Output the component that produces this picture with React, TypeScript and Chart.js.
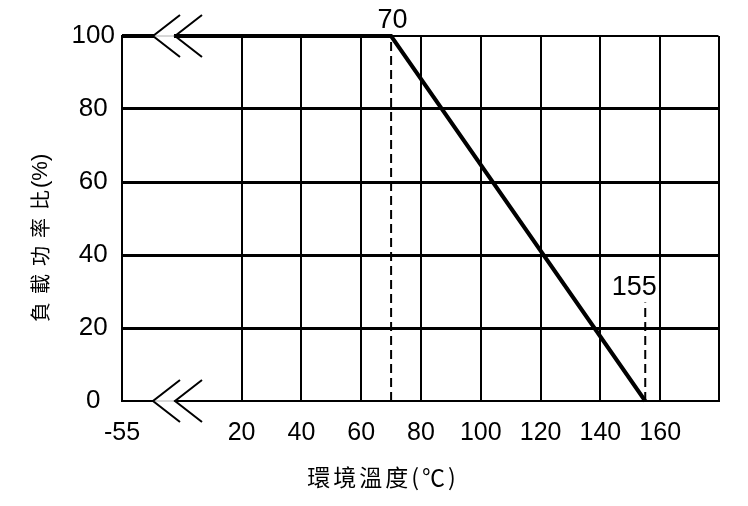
import React, { useEffect, useRef } from "react";
import { Chart, registerables } from "chart.js";

Chart.register(...registerables);

// ---- data ----
const xTickValues = [-55, 20, 40, 60, 80, 100, 120, 140, 160];
const yTickValues = [0, 20, 40, 60, 80, 100];
const xAxisEnd = 179.5;
const curveTemp = [-55, 70, 155];
const curveLoad = [100, 100, 0];
const markTemps = [70, 155];
const markTops = [100, 27];
const markLabels = ["70", "155"];
const xTitle = "環境溫度(℃)";
const yTitleMain = "負載功率比";
const yTitleUnit = "(%)";

// broken axis: the range -55..20 is drawn compressed to 40 units
const BREAK_FROM = -55;
const BREAK_TO = 20;
const BREAK_SPAN = 40;
const pos = (v: number) =>
  v >= BREAK_TO ? v : BREAK_TO - ((BREAK_TO - v) * BREAK_SPAN) / (BREAK_TO - BREAK_FROM);

const decor = {
  id: "decor",
  afterDatasetsDraw(chart: any) {
    const { ctx, chartArea: a, scales } = chart;
    const x = scales.x;
    const y = scales.y;
    ctx.save();
    // axis break symbols
    const tips = [a.left + 31, a.left + 53];
    [y.getPixelForValue(100), y.getPixelForValue(0)].forEach((py: number) => {
      ctx.fillStyle = "#fff";
      ctx.fillRect(tips[0] + 1, py - 3.5, tips[1] - tips[0] - 2, 7);
      ctx.strokeStyle = "#b0b0b0";
      ctx.lineWidth = 1;
      ctx.beginPath();
      ctx.moveTo(tips[0], py);
      ctx.lineTo(tips[1], py);
      ctx.stroke();
      ctx.strokeStyle = "#000";
      ctx.lineWidth = 2;
      tips.forEach((t) => {
        ctx.beginPath();
        ctx.moveTo(t + 27, py - 21);
        ctx.lineTo(t, py);
        ctx.lineTo(t + 27, py + 21);
        ctx.stroke();
      });
    });
    // mark labels
    ctx.fillStyle = "#000";
    ctx.font = '27px "Liberation Sans"';
    ctx.textAlign = "center";
    ctx.textBaseline = "middle";
    const dx = [1.5, -11];
    markTemps.forEach((t, i) => {
      ctx.fillText(markLabels[i], x.getPixelForValue(t) + dx[i], y.getPixelForValue(markTops[i]) - 15);
    });
    // x axis title
    ctx.font = '23px "Noto Sans CJK TC"';
    (ctx as any).letterSpacing = "3px";
    ctx.fillText(xTitle, 383, 477);
    // y axis title
    ctx.translate(40, 322);
    ctx.rotate(-Math.PI / 2);
    ctx.textAlign = "left";
    ctx.font = '20px "Noto Sans CJK TC"';
    (ctx as any).letterSpacing = "8px";
    ctx.fillText(yTitleMain, 0, 0);
    (ctx as any).letterSpacing = "0px";
    ctx.font = '22px "Liberation Sans"';
    ctx.fillText(yTitleUnit, 134, 1);
    ctx.restore();
  },
};

export default function App() {
  const ref = useRef<HTMLCanvasElement | null>(null);
  useEffect(() => {
    if (!ref.current) return;
    const markSets = markTemps.map((t, i) => ({
      data: [
        { x: t, y: 0 },
        { x: t, y: markTops[i] },
      ],
      borderColor: "#000",
      borderWidth: 2,
      borderDash: [9, 5],
      pointRadius: 0,
      clip: false as any,
      order: 2,
    }));
    const chart = new Chart(ref.current, {
      type: "line",
      data: {
        datasets: [
          {
            data: curveTemp.map((t, i) => ({ x: pos(t), y: curveLoad[i] })),
            borderColor: "#000",
            borderWidth: 4,
            borderJoinStyle: "miter",
            pointRadius: 0,
            clip: false as any,
            order: 1,
          },
          ...markSets,
        ],
      },
      options: {
        animation: false,
        responsive: false,
        layout: { padding: { left: 0, right: 748 - 718.5, top: 36, bottom: 0 } },
        plugins: { legend: { display: false }, tooltip: { enabled: false } },
        scales: {
          x: {
            type: "linear",
            min: pos(BREAK_FROM),
            max: xAxisEnd,
            afterBuildTicks: (s: any) => {
              s.ticks = [...xTickValues.map((v) => ({ value: pos(v) })), { value: xAxisEnd }];
            },
            afterFit: (s: any) => {
              s.height = 506 - 401;
            },
            ticks: {
              autoSkip: false,
              maxRotation: 0,
              padding: 17,
              color: "#000",
              font: { family: "Liberation Sans", size: 25 },
              callback: (val: any) => {
                const v = xTickValues.find((t) => Math.abs(pos(t) - val) < 1e-6);
                return v === undefined ? "" : String(v);
              },
            },
            grid: { color: "#000", lineWidth: 2, drawTicks: false },
            border: { display: true, color: "#000", width: 2 },
          },
          y: {
            type: "linear",
            min: 0,
            max: 100,
            afterBuildTicks: (s: any) => {
              s.ticks = yTickValues.map((v) => ({ value: v }));
            },
            afterFit: (s: any) => {
              s.width = 122;
            },
            ticks: {
              padding: 7,
              crossAlign: "center",
              color: "#000",
              font: { family: "Liberation Sans", size: 26 },
            },
            grid: {
              color: "#000",
              lineWidth: (c: any) => (c.tick && (c.tick.value === 0 || c.tick.value === 100) ? 2 : 3),
              drawTicks: false,
            },
            border: { display: true, color: "#000", width: 2 },
          },
        },
      },
      plugins: [decor],
    } as any);
    return () => chart.destroy();
  }, []);
  return (
    <div style={{ position: "absolute", left: 0, top: 0, width: 748, height: 506, background: "#fff" }}>
      <canvas ref={ref} width={748} height={506} />
    </div>
  );
}
